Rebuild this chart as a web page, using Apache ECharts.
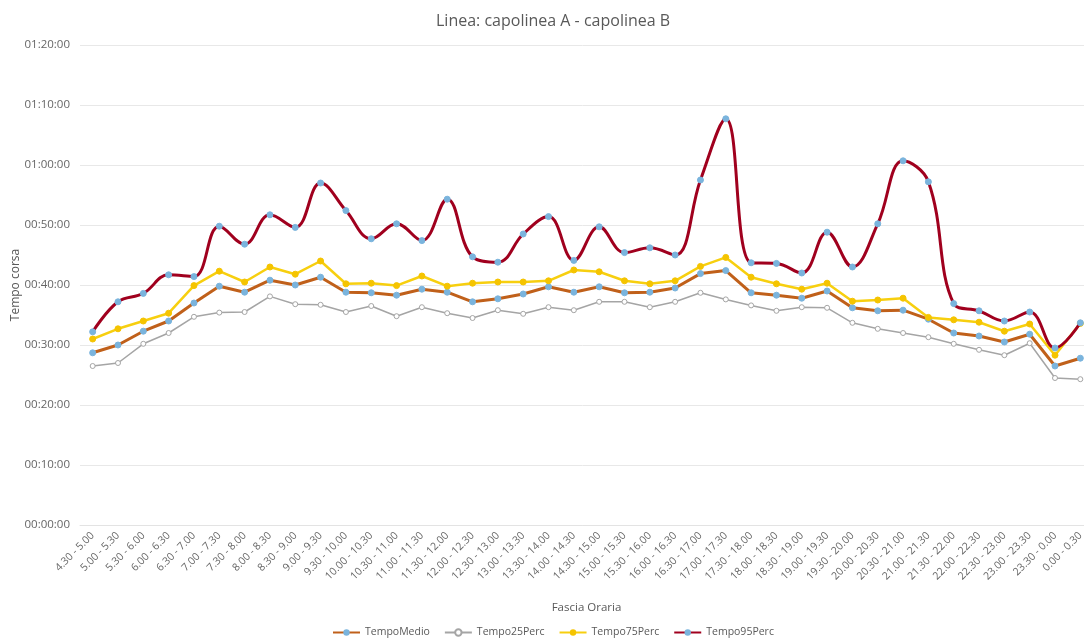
<!DOCTYPE html>
<html>
<head>
<meta charset="utf-8">
<script src="https://cdn.jsdelivr.net/npm/echarts@6/dist/echarts.min.js"></script>
<style>
html,body{margin:0;padding:0;background:#fff;}
#chart{width:1084px;height:643px;}
</style>
</head>
<body>
<div id="chart"></div>
<script>
var categories = ["4.30 - 5.00","5.00 - 5.30","5.30 - 6.00","6.00 - 6.30","6.30 - 7.00","7.00 - 7.30","7.30 - 8.00","8.00 - 8.30","8.30 - 9.00","9.00 - 9.30","9.30 - 10.00","10.00 - 10.30","10.30 - 11.00","11.00 - 11.30","11.30 - 12.00","12.00 - 12.30","12.30 - 13.00","13.00 - 13.30","13.30 - 14.00","14.00 - 14.30","14.30 - 15.00","15.00 - 15.30","15.30 - 16.00","16.00 - 16.30","16.30 - 17.00","17.00 - 17.30","17.30 - 18.00","18.00 - 18.30","18.30 - 19.00","19.00 - 19.30","19.30 - 20.00","20.00 - 20.30","20.30 - 21.00","21.00 - 21.30","21.30 - 22.00","22.00 - 22.30","22.30 - 23.00","23.00 - 23.30","23.30 - 0.00","0.00 - 0.30"];

// values in minutes
var tempoMedio = [28.7,30.0,32.3,34.0,37.0,39.8,38.8,40.8,40.0,41.3,38.8,38.7,38.3,39.3,38.8,37.2,37.7,38.5,39.7,38.8,39.7,38.7,38.8,39.5,41.9,42.4,38.7,38.3,37.8,39.0,36.2,35.7,35.8,34.3,32.0,31.5,30.5,31.8,26.5,27.8];
var tempo25Perc = [26.5,27.0,30.2,32.0,34.7,35.4,35.5,38.1,36.8,36.7,35.5,36.5,34.8,36.3,35.3,34.5,35.8,35.2,36.3,35.8,37.2,37.2,36.3,37.2,38.7,37.6,36.6,35.7,36.3,36.2,33.7,32.7,32.0,31.3,30.2,29.2,28.3,30.3,24.5,24.3];
var tempo75Perc = [31.0,32.7,34.0,35.3,39.9,42.3,40.5,43.0,41.8,44.0,40.2,40.3,39.9,41.5,39.8,40.3,40.5,40.5,40.7,42.5,42.2,40.7,40.2,40.7,43.1,44.6,41.3,40.2,39.3,40.3,37.3,37.5,37.8,34.6,34.2,33.8,32.3,33.5,28.3,33.6];
var tempo95Perc = [32.2,37.2,38.6,41.7,41.4,49.8,46.8,51.7,49.6,57.0,52.4,47.7,50.2,47.4,54.3,44.7,43.8,48.5,51.4,44.1,49.7,45.4,46.2,45.0,57.5,67.7,43.7,43.6,42.0,48.8,43.0,50.2,60.7,57.2,36.9,35.7,34.0,35.5,29.5,33.7];

var yMin = 0, yMax = 80, yStep = 10;

function pad(n){ return (n<10?'0':'')+n; }
function fmt(m){
  var s = Math.round(m*60);
  var h = Math.floor(s/3600), mm = Math.floor((s%3600)/60), ss = s%60;
  return pad(h)+':'+pad(mm)+':'+pad(ss);
}

var FONT = '"Open Sans", "Liberation Sans", sans-serif';
var chart = echarts.init(document.getElementById('chart'), null, {renderer:'canvas'});
chart.setOption({
  animation: false,
  backgroundColor: '#fff',
  title: {
    text: 'Linea: capolinea A - capolinea B',
    left: 431,
    top: 8,
    textStyle: {fontFamily: FONT, fontSize: 16, fontWeight: 'normal', color: '#595959'}
  },
  legend: {
    bottom: 0,
    left: 327,
    itemWidth: 27,
    itemHeight: 8,
    itemGap: 14,
    textStyle: {fontFamily: FONT, fontSize: 10.5, color: '#595959'},
    data: ['TempoMedio','Tempo25Perc','Tempo75Perc','Tempo95Perc']
  },
  grid: {left: 80, right: -9, top: 45, bottom: 118, outerBoundsMode: 'none', containLabel: false},
  xAxis: {
    type: 'category',
    data: categories,
    boundaryGap: true,
    name: 'Fascia Oraria',
    nameLocation: 'middle',
    nameGap: 77,
    nameMoveOverlap: false,
    nameTextStyle: {fontFamily: FONT, fontSize: 11.5, color: '#595959'},
    axisLine: {show: true, lineStyle: {color: '#e3e3e3'}},
    axisTick: {show: false},
    axisLabel: {interval: 0, rotate: 45, fontFamily: FONT, fontSize: 10.5, color: '#666666', margin: 9}
  },
  yAxis: {
    type: 'value',
    min: yMin, max: yMax, interval: yStep,
    name: 'Tempo corsa',
    nameLocation: 'middle',
    nameGap: 58,
    nameMoveOverlap: false,
    nameTextStyle: {fontFamily: FONT, fontSize: 12, color: '#595959'},
    axisLine: {show: false},
    axisTick: {show: false},
    axisLabel: {formatter: fmt, fontFamily: FONT, fontSize: 11.5, color: '#666666', margin: 10},
    splitLine: {lineStyle: {color: '#e8e8e8', width: 1}}
  },
  series: [
    {
      name: 'TempoMedio', type: 'line', data: tempoMedio,
      symbol: 'circle', symbolSize: 6,
      itemStyle: {color: '#7ab4dd', borderColor: '#7ab4dd'},
      lineStyle: {color: '#c0601a', width: 3},
      z: 3
    },
    {
      name: 'Tempo25Perc', type: 'line', data: tempo25Perc,
      symbol: 'circle', symbolSize: 5,
      itemStyle: {color: '#ffffff', borderColor: '#a5a5a5', borderWidth: 1},
      lineStyle: {color: '#a5a5a5', width: 1.5},
      z: 2
    },
    {
      name: 'Tempo75Perc', type: 'line', data: tempo75Perc,
      symbol: 'circle', symbolSize: 6,
      itemStyle: {color: '#f5c400', borderColor: '#f5c400'},
      lineStyle: {color: '#f7cf0f', width: 2.5},
      z: 4
    },
    {
      name: 'Tempo95Perc', type: 'line', data: tempo95Perc,
      smooth: 0.4,
      symbol: 'circle', symbolSize: 6,
      itemStyle: {color: '#7ab4dd', borderColor: '#7ab4dd'},
      lineStyle: {color: '#a0001e', width: 3},
      z: 5
    }
  ]
});
</script>
</body>
</html>
